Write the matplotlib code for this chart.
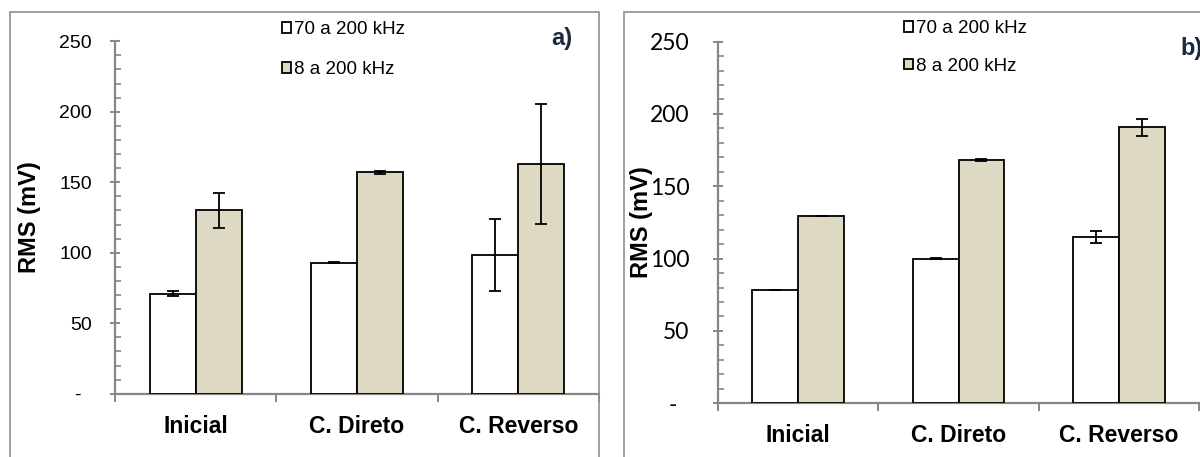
"""RMS (mV) por condição — painéis a) e b), barras com barras de erro."""

import matplotlib

matplotlib.use('Agg')
import matplotlib.pyplot as plt
import numpy as np
from matplotlib.patches import Rectangle
from matplotlib.ticker import FixedLocator, FuncFormatter, MultipleLocator

plt.rcParams['font.family'] = ['Liberation Sans', 'DejaVu Sans']

CATEGORIES = ['Inicial', 'C. Direto', 'C. Reverso']
SERIES = ['70 a 200 kHz', '8 a 200 kHz']

# painel a)
A_70 = [71, 93, 98.5]
A_70_ERR = [2, 0.5, 25.7]
A_8 = [130, 157, 163]
A_8_ERR = [12.5, 1, 42.8]

# painel b)
B_70 = [78.5, 100, 115]
B_70_ERR = [0, 0.3, 4.3]
B_8 = [129.5, 168, 190.7]
B_8_ERR = [0.3, 0.6, 6]

TAN = '#DDD9C3'
GRAY = '#878787'
BAR_W = 0.285


def draw_panel(ax, v70, e70, v8, e8, tick_font, tick_size, tick_pad):
  x = np.arange(len(CATEGORIES)) + 0.5
  eb = dict(ecolor='black', elinewidth=1.3, capsize=4.5, capthick=1.3)
  ax.bar(x - BAR_W / 2, v70, BAR_W, yerr=e70, color='white',
         edgecolor='black', linewidth=1.3, label=SERIES[0], error_kw=eb, zorder=3)
  ax.bar(x + BAR_W / 2, v8, BAR_W, yerr=e8, color=TAN,
         edgecolor='black', linewidth=1.3, label=SERIES[1], error_kw=eb, zorder=3)

  ax.set_xlim(0, len(CATEGORIES))
  ax.set_ylim(0, 250)
  for s in ('top', 'right'):
    ax.spines[s].set_visible(False)
  for s in ('left', 'bottom'):
    ax.spines[s].set_color(GRAY)
    ax.spines[s].set_linewidth(1.6)

  # eixo y: maiores a cada 50, menores a cada 10, zero como "-"
  ax.yaxis.set_major_locator(MultipleLocator(50))
  ax.yaxis.set_minor_locator(MultipleLocator(10))
  ax.yaxis.set_major_formatter(
    FuncFormatter(lambda v, p: '-  ' if v == 0 else f'{v:.0f}'))
  ax.tick_params(axis='y', which='major', direction='inout', length=7,
                 width=1.4, color=GRAY, pad=tick_pad, labelsize=tick_size)
  ax.tick_params(axis='y', which='minor', direction='in', length=4,
                 width=1.2, color=GRAY)
  for lab in ax.get_yticklabels():
    lab.set_fontfamily(tick_font)

  # eixo x: traços nas divisas das categorias, rótulos no centro
  ax.xaxis.set_major_locator(FixedLocator(range(len(CATEGORIES) + 1)))
  ax.xaxis.set_major_formatter(FuncFormatter(lambda v, p: ''))
  ax.xaxis.set_minor_locator(FixedLocator(x))
  ax.set_xticklabels(CATEGORIES, minor=True, fontsize=16.5, fontweight='bold')
  ax.tick_params(axis='x', which='major', direction='out', length=6,
                 width=1.4, color=GRAY)
  ax.tick_params(axis='x', which='minor', length=0, pad=15)

  ax.set_ylabel('RMS (mV)', fontsize=17, fontweight='bold')


fig = plt.figure(figsize=(12, 4.57), dpi=100)
W, H = 1200, 457


def px_axes(left, right, bottom, top):
  return fig.add_axes([left / W, 1 - bottom / H, (right - left) / W, (bottom - top) / H])


# molduras dos painéis
for x0, x1 in ((10, 599), (624, 1205)):
  fig.patches.append(Rectangle((x0 / W, -0.05), (x1 - x0) / W, 1.05 - 12 / H,
                               transform=fig.transFigure, fill=False,
                               edgecolor='#8f8f8f', linewidth=1.2))

legend_kw = dict(bbox_transform=fig.transFigure, frameon=False, loc='upper left',
                 handlelength=0.5, handleheight=0.5, handletextpad=0.15,
                 borderpad=0, borderaxespad=0)

ax_a = px_axes(115, 599, 393.7, 41.2)
draw_panel(ax_a, A_70, A_70_ERR, A_8, A_8_ERR, 'Liberation Sans', 14, 13)
ax_a.yaxis.set_label_coords(-0.153, 0.5)
ax_a.legend(bbox_to_anchor=(282 / W, 1 - 21 / H), fontsize=13.5,
            labelspacing=1.25, **legend_kw)
fig.text(551 / W, 1 - 38 / H, 'a)', fontsize=17, fontweight='bold',
         color='#1d2840', va='center', ha='left')

ax_b = px_axes(718, 1199, 403.3, 41.6)
draw_panel(ax_b, B_70, B_70_ERR, B_8, B_8_ERR, 'Lato', 16.5, 17)
ax_b.yaxis.set_label_coords(-0.135, 0.5)
ax_b.legend(bbox_to_anchor=(904 / W, 1 - 20 / H), fontsize=13.5,
            labelspacing=1.1, **legend_kw)
fig.text(1180 / W, 1 - 48 / H, 'b)', fontsize=17, fontweight='bold',
         color='#1d2840', va='center', ha='left')

fig.savefig('out.png', dpi=100)
